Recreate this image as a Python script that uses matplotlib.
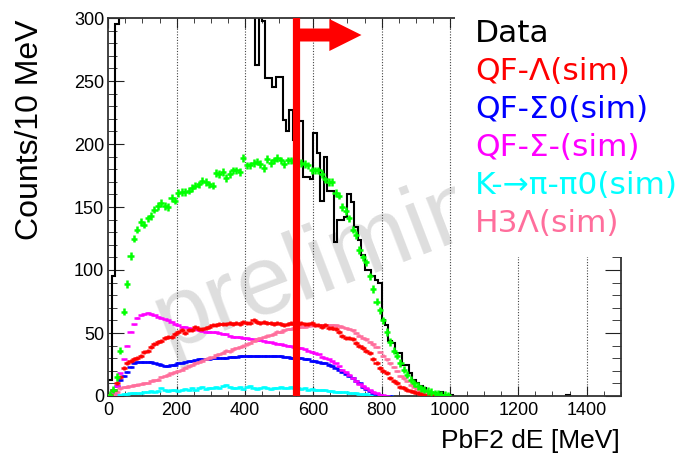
import numpy as np
import matplotlib
matplotlib.use('Agg')
import matplotlib.pyplot as plt
from matplotlib.patches import Rectangle, FancyArrow
from matplotlib.ticker import MultipleLocator

# ---- data (10 MeV bins) ---------------------------------------------
# black histogram: counts for bins starting at 0, 10, ..., 1000 MeV
data_counts = [
    13, 95, 295,
    380, 460, 520, 560, 600, 620, 640, 650, 660, 655,
    650, 640, 630, 620, 605, 590, 575, 560, 545, 530,
    515, 500, 485, 470, 455, 440, 425, 410, 395, 385,
    375, 365, 355, 345, 338, 330, 325, 318, 312, 306,
    263, 310, 298, 252, 252, 245, 253, 253, 219, 210,
    227, 203, 218, 218, 174, 174, 172, 209, 193, 155,
    190, 163, 163, 122, 140, 140, 142, 160, 154, 134,
    124, 112, 100, 100, 95, 92, 90, 60, 56, 44,
    42, 34, 34, 25, 25, 18, 13, 10, 8, 6,
    3, 2, 2, 1, 3, 1, 1, 1,
]
tail_edges = [1340, 1350]
tail_counts = [1]

# simulated spectra, bin centres 5, 15, ..., 995 MeV
sim_sum = [
    1, 5, 15, 36, 67, 89, 111, 125, 132, 138,
    136, 141, 143, 148, 151, 153, 151, 150, 157, 155,
    161, 162, 162, 163, 165, 167, 168, 171, 170, 168,
    167, 177, 176, 178, 173, 176, 179, 179, 178, 189,
    183, 183, 185, 186, 184, 181, 188, 185, 187, 189,
    187, 184, 187, 187, 186, 186, 185, 184, 183, 179,
    179, 179, 176, 172, 170, 170, 161, 159, 150, 147,
    141, 132, 128, 116, 110, 106, 95, 85, 75, 68,
    60, 51, 43, 36, 32, 26, 21, 17, 13, 10,
    8, 6, 5, 4, 3, 2, 1.5, 1, 0.7, 0.5,
]
qf_lambda = [
    1, 5, 10, 15, 22, 26, 28, 29, 30, 32,
    35, 36, 39, 41, 43, 44, 46, 47, 47, 49,
    51, 52, 50, 52, 52, 55, 53, 53, 54, 55,
    56, 56, 57, 57, 57, 58, 57, 58, 57, 59,
    58, 58, 60, 59, 58, 59, 58, 58, 57, 58,
    57, 56, 57, 58, 57, 57, 58, 57, 57, 58,
    56, 56, 55, 56, 54, 54, 53, 51, 48, 46,
    46, 45, 42, 40, 38, 36, 34, 29, 26, 22,
    20, 18, 14, 12, 10, 7, 6, 4.5, 4, 3,
    2, 1.5, 1, 0.7, 0.5, 0.3, 0.2, 0.1, 0.1, 0,
]
qf_sigma0 = [
    1, 5, 8, 13, 16, 19, 23, 26, 27, 27,
    27, 27, 27, 26, 25.5, 25, 24, 24, 24.5, 25,
    26, 26.5, 27, 27.5, 28, 28.5, 29, 29, 29.5, 29.5,
    30, 30, 30.5, 30.5, 30.5, 31, 31, 31, 31.5, 31.5,
    32, 31.5, 32, 32, 32, 32, 31.5, 32, 32, 31.5,
    31.5, 31, 31, 30.5, 30.5, 30.5, 30, 29.5, 29, 28,
    27.5, 27, 26.5, 26, 25, 23.5, 22, 21, 19, 17.5,
    16, 14, 12, 10, 7.5, 5.5, 4, 2.5, 1.5, 0.7,
    0.3, 0.2, 0.1, 0, 0, 0, 0, 0, 0, 0,
    0, 0, 0, 0, 0, 0, 0, 0, 0, 0,
]
qf_sigmam = [
    0.5, 2, 8, 18, 29, 40, 51, 57, 62, 64,
    65, 66, 65, 64, 63, 62, 61, 60, 59, 57,
    56, 55, 55, 54, 53.5, 53, 52, 51.5, 51, 51,
    50.5, 50.5, 50, 49.5, 49, 48, 47, 47, 46.5, 46,
    46, 45.5, 45, 44.5, 44.5, 44, 43, 42.5, 42, 41.5,
    41, 40.5, 40, 39.5, 39, 38, 38, 37, 36, 35,
    34, 33, 31, 30, 29, 27.5, 26, 23.5, 21, 19,
    17, 14, 12, 9.5, 8, 6, 4.5, 3.4, 2, 1,
    0.5, 0.2, 0, 0, 0, 0, 0, 0, 0, 0,
    0, 0, 0, 0, 0, 0, 0, 0, 0, 0,
]
k_pipi0 = [
    0, 0.5, 1, 1, 1.5, 1.5, 2, 2, 2.5, 2.5,
    3, 3.5, 4, 3, 4, 6, 5, 4, 4.5, 5,
    4, 5, 5.5, 5, 6, 5, 6.5, 7, 5.5, 6,
    6.5, 7, 6.5, 8, 9, 7, 6, 6.5, 7, 5.5,
    7, 8, 6.5, 5.5, 6, 7, 6.5, 5.5, 6, 6.5,
    7.5, 6.5, 6, 7, 6, 6, 5.5, 6, 5, 5.5,
    5, 5, 4.5, 4.5, 4, 4, 3.5, 3.5, 3, 3,
    2.5, 2.5, 2, 1.8, 1.5, 1.2, 1, 0.8, 0.6, 0.4,
    0.3, 0.2, 0.1, 0, 0, 0, 0, 0, 0, 0,
    0, 0, 0, 0, 0, 0, 0, 0, 0, 0,
]
h3lambda = [
    0.5, 1, 3.5, 6, 7, 7.5, 8, 8.5, 9, 9.5,
    10, 10.5, 12, 12.5, 13, 15, 16, 17, 18, 19,
    20, 21, 22.5, 23.5, 24.5, 26, 27, 28, 29.5, 30.5,
    31, 32.5, 33.5, 34.5, 36, 35.5, 37, 38, 39, 40,
    41, 42, 43.5, 45, 46, 47, 48, 48.5, 49.5, 51,
    51, 52, 53, 53, 54, 54.5, 55, 55, 55.5, 56,
    56, 56.5, 56.5, 56.5, 56.5, 56.5, 56, 55.5, 55, 54,
    53, 52, 50, 48, 46, 45, 43, 41, 39, 35,
    32, 29, 26, 23, 20, 16, 14, 12, 9, 7,
    5.5, 4, 3, 2, 1.5, 1, 0.8, 0.6, 0.4, 0.3,
]

cut_value = 550  # MeV

legend_labels = ['Data', 'QF-Λ(sim)', 'QF-Σ0(sim)', 'QF-Σ-(sim)',
                 'K-→π-π0(sim)', 'H3Λ(sim)']
legend_colors = ['black', '#ff0000', '#0000ff', '#ff00ff', '#00ffff', '#ff6e9c']

W, H = 697, 457
fig = plt.figure(figsize=(W / 100, H / 100), dpi=100)
ax = fig.add_axes([108.3 / W, 61 / H, 512.5 / W, 378 / H])
ax.patch.set_visible(False)

# watermark
ax.text(0.115, 0.12, 'preliminary', transform=ax.transAxes, rotation=21,
        rotation_mode='anchor', ha='left', va='baseline', fontsize=71,
        color='#dedede', family='Liberation Sans', zorder=0.5)

# data histogram
edges = np.arange(len(data_counts) + 1) * 10
ax.stairs(data_counts, edges, color='black', lw=1.5, zorder=2)
ax.stairs(tail_counts, tail_edges, color='black', lw=1.5, zorder=2)

centres = np.arange(len(sim_sum)) * 10 + 5
series = [
    (k_pipi0,   '#00ffff', 0.8),
    (qf_sigma0, '#0000ff', 0.8),
    (qf_sigmam, '#ff00ff', 0.5),
    (h3lambda,  '#ff6e9c', 1.0),
    (qf_lambda, '#ff0000', 1.6),
    (sim_sum,   '#00ff00', 3.0),
]
for vals, col, ye in series:
    v = np.asarray(vals, dtype=float)
    m = v > 0
    ax.errorbar(centres[m], v[m], xerr=9, yerr=ye, fmt='none',
                ecolor=col, elinewidth=1.8, capsize=0, zorder=3)

# cut line + arrow
ax.axvline(cut_value, color='#ff0000', lw=5.2, zorder=5)
ax.add_patch(FancyArrow(cut_value, 286.5, 191, 0, width=10.3,
                        head_width=25.4, head_length=94,
                        length_includes_head=True, color='#ff0000',
                        lw=0, zorder=5))

ax.set_xlim(0, 1500)
ax.set_ylim(0, 300)
ax.xaxis.set_major_locator(MultipleLocator(200))
ax.xaxis.set_minor_locator(MultipleLocator(50))
ax.yaxis.set_major_locator(MultipleLocator(50))
ax.yaxis.set_minor_locator(MultipleLocator(10))
ax.tick_params(which='both', direction='in', top=True, right=True,
               colors='#222222', labelsize=13, labelcolor='black')
ax.tick_params(axis='x', which='major', length=7, pad=4)
ax.tick_params(axis='x', which='minor', length=3.6)
ax.tick_params(axis='y', which='major', length=11.5, pad=3)
ax.tick_params(axis='y', which='minor', length=6.5)
for lab in ax.get_xticklabels() + ax.get_yticklabels():
    lab.set_family('Liberation Sans')
for s in ax.spines.values():
    s.set_linewidth(1.3)
    s.set_color('#333333')
for x in range(200, 1500, 200):
    ax.axvline(x, color='#444444', ls=(0, (1, 1.5)), lw=0.8, zorder=1.5)

fig.text(30 / W, 1 - 130 / H, 'Counts/10 MeV', rotation=90, ha='center',
         va='center', fontsize=23, family='Liberation Sans')
fig.text(620 / W, 1 - 441 / H, 'PbF2 dE [MeV]', ha='right', va='center',
         fontsize=19, family='Liberation Sans')

# legend block (covers the top-right corner)
fig.add_artist(Rectangle((455 / W, 1 - 257 / H), 1, 257 / H,
                         transform=fig.transFigure, facecolor='white',
                         edgecolor='none', zorder=5))
for i, (lbl, col) in enumerate(zip(legend_labels, legend_colors)):
    fig.text(475 / W, 1 - (33 + 38.2 * i) / H, lbl, color=col, ha='left',
             va='center', fontsize=22.5, zorder=6, family='DejaVu Sans')

fig.savefig('out.png', dpi=100)
